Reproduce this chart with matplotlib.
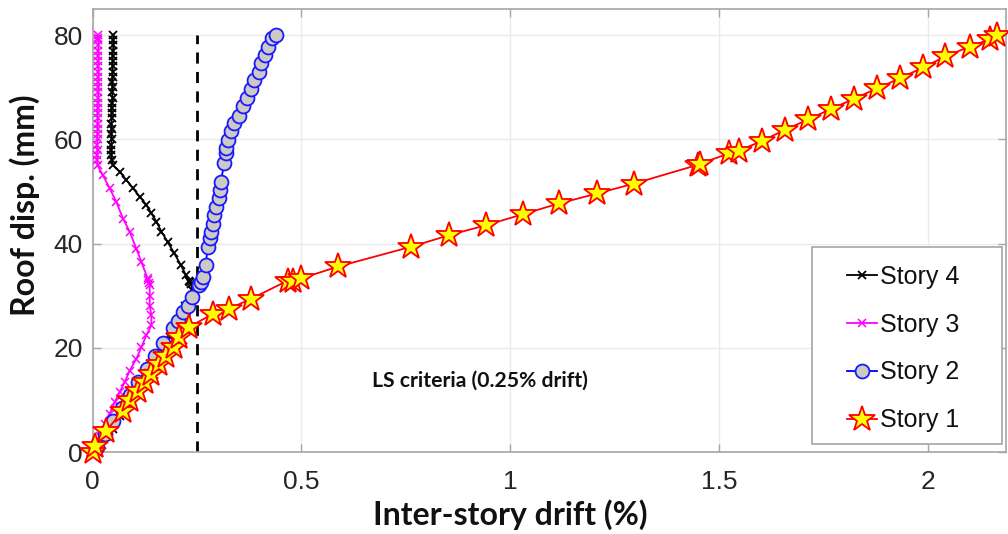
import matplotlib
matplotlib.use("Agg")
import matplotlib.pyplot as plt
from matplotlib.patches import Rectangle

# ---------------- data ----------------
# Story 1 (stars)
s1_drift = [0, 0.005, 0.033, 0.073, 0.089, 0.109, 0.125, 0.141, 0.160, 0.177, 0.196, 0.208,
            0.232, 0.288, 0.328, 0.380, 0.468, 0.480, 0.500, 0.589, 0.764, 0.854, 0.942,
            1.030, 1.118, 1.209, 1.297, 1.450, 1.455, 1.525, 1.548, 1.604, 1.658, 1.714,
            1.768, 1.825, 1.880, 1.934, 1.990, 2.043, 2.101, 2.150, 2.167]
s1_disp = [0, 1.2, 4.1, 7.9, 9.9, 11.8, 13.4, 15.0, 16.9, 18.5, 20.1, 22.1,
           24.0, 26.5, 27.5, 29.4, 32.9, 32.9, 33.3, 35.6, 39.4, 41.6, 43.5,
           45.6, 47.7, 49.6, 51.5, 55.1, 55.3, 57.3, 57.8, 59.7, 61.8, 63.8,
           65.8, 67.8, 69.8, 71.7, 73.8, 75.9, 77.8, 79.2, 80.0]

# Story 2 (circles)
s2_drift = [0, 0.01, 0.03, 0.05, 0.07, 0.09, 0.11, 0.13, 0.15, 0.17, 0.192, 0.204, 0.216,
            0.228, 0.239, 0.255, 0.260, 0.264, 0.271, 0.276, 0.282, 0.284, 0.288, 0.292,
            0.296, 0.302, 0.306, 0.308, 0.315, 0.319, 0.320, 0.324, 0.332, 0.340, 0.350,
            0.360, 0.371, 0.380, 0.388, 0.398, 0.404, 0.412, 0.420, 0.430, 0.440]
s2_disp = [0, 1.0, 3.5, 6.0, 8.5, 11.0, 13.5, 16.0, 18.5, 21.0, 23.7, 25.2, 26.9,
           28.1, 29.8, 32.0, 32.6, 33.6, 35.8, 39.4, 41.0, 42.3, 43.8, 45.4,
           47.1, 48.7, 50.3, 51.9, 55.4, 57.3, 58.3, 59.9, 61.5, 63.1, 64.5,
           66.3, 67.9, 69.7, 71.4, 73.0, 74.6, 76.1, 77.8, 79.4, 80.0]

# Story 3 (magenta x)
s3_drift = [0, 0.005, 0.017, 0.029, 0.041, 0.053, 0.065, 0.077, 0.089, 0.105, 0.117, 0.129,
            0.141, 0.141, 0.137, 0.137, 0.137, 0.136, 0.134, 0.132, 0.117, 0.105, 0.089,
            0.073, 0.057, 0.041, 0.025, 0.012,
            0.011, 0.011, 0.012, 0.011, 0.012, 0.012, 0.013, 0.012, 0.013, 0.012, 0.013,
            0.013, 0.014, 0.013, 0.014, 0.013, 0.014, 0.014, 0.013, 0.014, 0.014, 0.013,
            0.014, 0.014, 0.014, 0.014]
s3_disp = [0, 1.2, 3.1, 5.4, 7.3, 9.5, 11.5, 13.4, 15.6, 17.9, 20.1, 22.4,
           24.3, 26.2, 28.1, 30.0, 32.0, 32.5, 33.0, 33.3, 36.5, 39.0, 42.3,
           44.8, 48.0, 50.6, 53.1, 55.0,
           56, 57, 58, 59, 60, 61, 62, 63, 64, 65, 66,
           67, 68, 69, 70, 71, 72, 73, 74, 75, 76, 77,
           78, 79, 79.5, 80]

# Story 4 (black x)
s4_drift = [0, 0.015, 0.030, 0.048, 0.065, 0.085, 0.105, 0.125, 0.145, 0.165, 0.185, 0.205,
            0.222, 0.238, 0.236, 0.234, 0.232, 0.224, 0.212, 0.196, 0.180, 0.165, 0.153,
            0.141, 0.129, 0.113, 0.097, 0.081, 0.065, 0.049,
            0.046, 0.045, 0.044, 0.045, 0.046, 0.045, 0.046, 0.045, 0.046, 0.047, 0.046,
            0.047, 0.048, 0.047, 0.048, 0.047, 0.048, 0.049, 0.048, 0.049, 0.048, 0.049,
            0.050, 0.049, 0.050]
s4_disp = [0, 1.5, 3.0, 4.5, 7.0, 9.5, 12.0, 14.5, 17.0, 19.5, 22.0, 25.0,
           28.0, 31.0, 32.3, 32.6, 32.8, 33.9, 35.8, 38.1, 40.3, 42.3, 44.2,
           45.8, 47.4, 49.0, 50.6, 52.2, 53.8, 55.0,
           56, 57, 58, 59, 60, 61, 62, 63, 64, 65, 66,
           67, 68, 69, 70, 71, 72, 73, 74, 75, 76, 77,
           78, 79, 80]

ls_drift = [0.25, 0.25]
ls_disp = [0, 80]

x_ticks = [0, 0.5, 1, 1.5, 2]
x_ticklabels = ["0", "0.5", "1", "1.5", "2"]
y_ticks = [0, 20, 40, 60, 80]

# ---------------- figure ----------------
W, H = 1008, 534
fig = plt.figure(figsize=(W / 100, H / 100), dpi=100)
ax_l, ax_r, ax_b, ax_t = 92.5, 1006, 452, 9
ax = fig.add_axes([ax_l / W, (H - ax_b) / H, (ax_r - ax_l) / W, (ax_b - ax_t) / H])


def px2ax(px, py):
    return (px - ax_l) / (ax_r - ax_l), (ax_b - py) / (ax_b - ax_t)


tick_font = "Liberation Sans"
label_font = "Lato"

ax.plot(s4_drift, s4_disp, color="black", lw=1.3, marker="x", ms=6, mew=1.3,
        label="Story 4", zorder=3)
ax.plot(s3_drift, s3_disp, color="#ff00ff", lw=1.3, marker="x", ms=6, mew=1.1,
        label="Story 3", zorder=3)
ax.plot(s2_drift, s2_disp, color="#0000ff", lw=1.3, marker="o", ms=10,
        mfc="#cdc9c5", mec="#1a1aff", mew=1.3, label="Story 2", zorder=4)
ax.plot(s1_drift, s1_disp, color="#ff0000", lw=1.3, marker="*", ms=19,
        mfc="#ffff00", mec="#ff0000", mew=1.3, label="Story 1", zorder=5,
        clip_on=False)
ax.plot(ls_drift, ls_disp, color="black", lw=2, ls=(0, (4, 3)), zorder=2)

ax.text(0.67, 13.6, "LS criteria (0.25% drift)", fontsize=15.2, fontweight="bold",
        family=label_font, va="center", ha="left", color="#111111")

ax.set_xlim(0, 2.188)
ax.set_ylim(0, 85)
ax.set_xticks(x_ticks)
ax.set_xticklabels(x_ticklabels)
ax.set_yticks(y_ticks)
ax.grid(True, color="#ebebeb", lw=1)
ax.set_axisbelow(True)

for s in ax.spines.values():
    s.set_color("#a6a6a6")
    s.set_linewidth(1.2)
ax.tick_params(direction="in", length=6, width=1, color="#a6a6a6",
               top=True, right=True, labelsize=19, labelcolor="#262626")
ax.tick_params(axis="x", pad=13)
ax.tick_params(axis="y", pad=7)
for lab in ax.get_xticklabels() + ax.get_yticklabels():
    lab.set_family(tick_font)

ax.set_xlabel("Inter-story drift (%)", fontsize=23, fontweight="bold",
              family=label_font, color="#111111")
ax.set_ylabel("Roof disp. (mm)", fontsize=23, fontweight="bold",
              family=label_font, color="#111111")
xl_x, xl_y = px2ax(510, 515)
ax.xaxis.set_label_coords(xl_x, xl_y)
ax.xaxis.label.set_va("center")
yl_x, yl_y = px2ax(25, 205)
ax.yaxis.set_label_coords(yl_x, yl_y)
ax.yaxis.label.set_va("center")

# legend frame drawn as a rectangle (MATLAB-like wide left margin)
lx0, ly0 = px2ax(812, 444)
lx1, ly1 = px2ax(1002, 247)
frame = Rectangle((lx0, ly0), lx1 - lx0, ly1 - ly0, transform=ax.transAxes,
                  facecolor="white", edgecolor="#a6a6a6", lw=1.2, zorder=9)
ax.add_patch(frame)

ancx, ancy = px2ax(847, 265)
leg = ax.legend(loc="upper left", bbox_to_anchor=(ancx, ancy),
                prop={"family": tick_font, "size": 18}, frameon=False,
                handlelength=1.2, handletextpad=0.1, labelspacing=0.95,
                borderpad=0, borderaxespad=0)
leg.set_zorder(10)
for t in leg.get_texts():
    t.set_color("#111111")

fig.savefig("out.png", dpi=100)
